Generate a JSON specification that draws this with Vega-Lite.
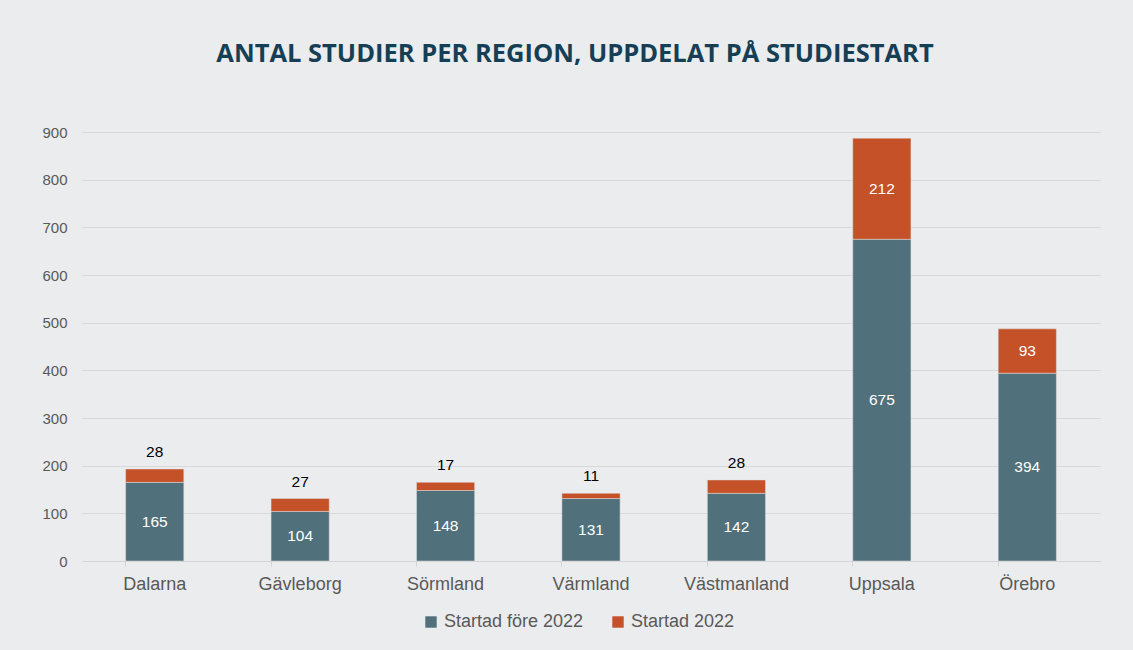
{
  "$schema": "https://vega.github.io/schema/vega-lite/v6.json",
  "width": 1018,
  "height": 429,
  "autosize": {"type": "none"},
  "padding": {"left": 82, "top": 132, "right": 33, "bottom": 89},
  "background": "#ebecee",
  "config": {"view": {"stroke": null}},
  "title": {
    "text": "ANTAL STUDIER PER REGION, UPPDELAT PÅ STUDIESTART",
    "font": "Open Sans",
    "fontSize": 25.5,
    "fontWeight": "bold",
    "color": "#163f55",
    "anchor": "middle",
    "dx": -16,
    "offset": 58
  },
  "data": {
    "values": [
      {"region": "Dalarna", "serie": "Startad före 2022", "ord": 1, "value": 165},
      {"region": "Dalarna", "serie": "Startad 2022", "ord": 2, "value": 28},
      {"region": "Gävleborg", "serie": "Startad före 2022", "ord": 1, "value": 104},
      {"region": "Gävleborg", "serie": "Startad 2022", "ord": 2, "value": 27},
      {"region": "Sörmland", "serie": "Startad före 2022", "ord": 1, "value": 148},
      {"region": "Sörmland", "serie": "Startad 2022", "ord": 2, "value": 17},
      {"region": "Värmland", "serie": "Startad före 2022", "ord": 1, "value": 131},
      {"region": "Värmland", "serie": "Startad 2022", "ord": 2, "value": 11},
      {"region": "Västmanland", "serie": "Startad före 2022", "ord": 1, "value": 142},
      {"region": "Västmanland", "serie": "Startad 2022", "ord": 2, "value": 28},
      {"region": "Uppsala", "serie": "Startad före 2022", "ord": 1, "value": 675},
      {"region": "Uppsala", "serie": "Startad 2022", "ord": 2, "value": 212},
      {"region": "Örebro", "serie": "Startad före 2022", "ord": 1, "value": 394},
      {"region": "Örebro", "serie": "Startad 2022", "ord": 2, "value": 93}
    ]
  },
  "transform": [
    {"stack": "value", "groupby": ["region"], "sort": [{"field": "ord", "order": "ascending"}], "as": ["y0", "y1"]},
    {"calculate": "(datum.y0 + datum.y1) / 2", "as": "mid"}
  ],
  "encoding": {
    "x": {
      "field": "region",
      "type": "nominal",
      "sort": ["Dalarna", "Gävleborg", "Sörmland", "Värmland", "Västmanland", "Uppsala", "Örebro"],
      "scale": {"paddingInner": 0.6, "paddingOuter": 0.3},
      "axis": {
        "title": null,
        "labelAngle": 0,
        "labelFont": "Liberation Sans",
        "labelFontSize": 18,
        "labelColor": "#595959",
        "labelPadding": 9,
        "domainColor": "#d4d4d4",
        "tickColor": "#d4d4d4",
        "tickSize": 5,
        "bandPosition": 0,
        "grid": false
      }
    }
  },
  "layer": [
    {
      "mark": {"type": "bar", "stroke": "#e0e0e0", "strokeWidth": 0.5},
      "encoding": {
        "y": {
          "field": "y0",
          "type": "quantitative",
          "scale": {"domain": [0, 900]},
          "axis": {
            "title": null,
            "values": [0, 100, 200, 300, 400, 500, 600, 700, 800, 900],
            "labelFont": "Liberation Sans",
            "labelFontSize": 15,
            "labelColor": "#595959",
            "labelPadding": 15,
            "ticks": false,
            "domain": false,
            "gridColor": "#d9d9d9",
            "gridWidth": 1
          }
        },
        "y2": {"field": "y1"},
        "color": {
          "field": "serie",
          "type": "nominal",
          "scale": {"domain": ["Startad före 2022", "Startad 2022"], "range": ["#50707c", "#c45127"]},
          "legend": {
            "title": null,
            "orient": "none",
            "direction": "horizontal",
            "legendX": 340,
            "legendY": 481,
            "symbolType": "square",
            "symbolSize": 130,
            "symbolStrokeWidth": 0,
            "labelFont": "Liberation Sans",
            "labelFontSize": 18,
            "labelColor": "#595959",
            "labelOffset": 4,
            "columnPadding": 25
          }
        }
      }
    },
    {
      "transform": [{"filter": "datum.value >= 50"}],
      "mark": {"type": "text", "font": "Liberation Sans", "fontSize": 15.5, "color": "white", "baseline": "middle"},
      "encoding": {
        "y": {"field": "mid", "type": "quantitative"},
        "text": {"field": "value", "type": "quantitative"}
      }
    },
    {
      "transform": [{"filter": "datum.value < 50"}],
      "mark": {"type": "text", "font": "Liberation Sans", "fontSize": 15.5, "color": "black", "baseline": "bottom", "dy": -9},
      "encoding": {
        "y": {"field": "y1", "type": "quantitative"},
        "text": {"field": "value", "type": "quantitative"}
      }
    }
  ]
}
